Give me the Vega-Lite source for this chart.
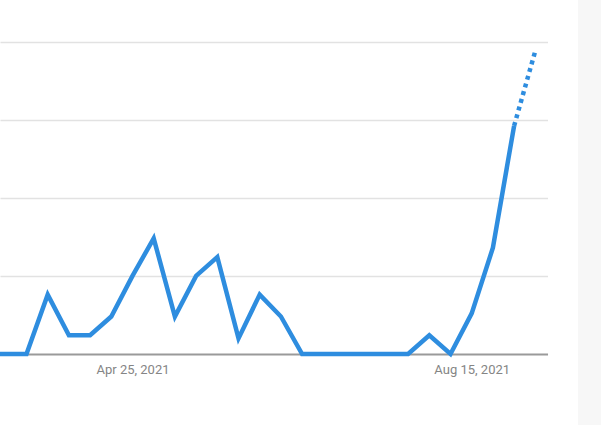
{
  "$schema": "https://vega.github.io/schema/vega-lite/v6.json",
  "width": 601,
  "height": 425,
  "padding": 0,
  "autosize": {"type": "none"},
  "background": "#ffffff",
  "view": {"stroke": null},
  "datasets": {
    "trend": [
      {"week": "2021-02-28", "value": 0},
      {"week": "2021-03-07", "value": 0},
      {"week": "2021-03-14", "value": 0},
      {"week": "2021-03-21", "value": 0},
      {"week": "2021-03-28", "value": 19},
      {"week": "2021-04-04", "value": 6},
      {"week": "2021-04-11", "value": 6},
      {"week": "2021-04-18", "value": 12},
      {"week": "2021-04-25", "value": 25},
      {"week": "2021-05-02", "value": 37},
      {"week": "2021-05-09", "value": 12},
      {"week": "2021-05-16", "value": 25},
      {"week": "2021-05-23", "value": 31},
      {"week": "2021-05-30", "value": 5},
      {"week": "2021-06-06", "value": 19},
      {"week": "2021-06-13", "value": 12},
      {"week": "2021-06-20", "value": 0},
      {"week": "2021-06-27", "value": 0},
      {"week": "2021-07-04", "value": 0},
      {"week": "2021-07-11", "value": 0},
      {"week": "2021-07-18", "value": 0},
      {"week": "2021-07-25", "value": 0},
      {"week": "2021-08-01", "value": 6},
      {"week": "2021-08-08", "value": 0},
      {"week": "2021-08-15", "value": 13},
      {"week": "2021-08-22", "value": 34},
      {"week": "2021-08-29", "value": 73}
    ],
    "partial": [
      {"week": "2021-08-29", "value": 73},
      {"week": "2021-09-05", "value": 97}
    ],
    "panels": [
      {"start": 1631162880000, "end": 1632018240000, "fill": "#ffffff"},
      {"start": 1632018240000, "end": 1632700000000, "fill": "#f7f7f7"}
    ]
  },
  "layer": [
    {
      "data": {"name": "trend"},
      "mark": {"type": "line", "color": "#2e8ddf", "strokeWidth": 4.5, "strokeJoin": "miter", "clip": true},
      "encoding": {
        "x": {
          "field": "week",
          "type": "temporal",
          "scale": {"type": "utc", "domain": [1615528800000, 1632674000000]},
          "axis": {
            "values": [1619308800000, 1628985600000],
            "labelExpr": "utcFormat(datum.value, '%b %d, %Y')",
            "title": null,
            "grid": false,
            "domain": false,
            "ticks": false,
            "offset": -71,
            "labelPadding": 9,
            "labelFont": "Roboto",
            "labelFontSize": 13,
            "labelColor": "#858585",
            "labelOverlap": false
          }
        },
        "y": {
          "field": "value",
          "type": "quantitative",
          "scale": {"domain": [-22.72, 113.28], "nice": false, "zero": false},
          "axis": {
            "values": [0, 25, 50, 75, 100],
            "title": null,
            "labels": false,
            "ticks": false,
            "domain": false,
            "grid": true,
            "gridColor": {"condition": {"test": "datum.value === 0", "value": "#9a9a9a"}, "value": "#e2e2e2"},
            "gridWidth": {"condition": {"test": "datum.value === 0", "value": 2}, "value": 1.5}
          }
        }
      }
    },
    {
      "data": {"name": "partial"},
      "mark": {"type": "line", "color": "#2e8ddf", "strokeWidth": 4.5, "strokeDash": [4, 4], "clip": true},
      "encoding": {
        "x": {"field": "week", "type": "temporal"},
        "y": {"field": "value", "type": "quantitative"}
      }
    },
    {
      "data": {"name": "panels"},
      "mark": {"type": "rect", "clip": true},
      "encoding": {
        "x": {"field": "start", "type": "temporal"},
        "x2": {"field": "end"},
        "y": {"datum": -22.72},
        "y2": {"datum": 113.28},
        "fill": {"field": "fill", "type": "nominal", "scale": null}
      }
    }
  ]
}
